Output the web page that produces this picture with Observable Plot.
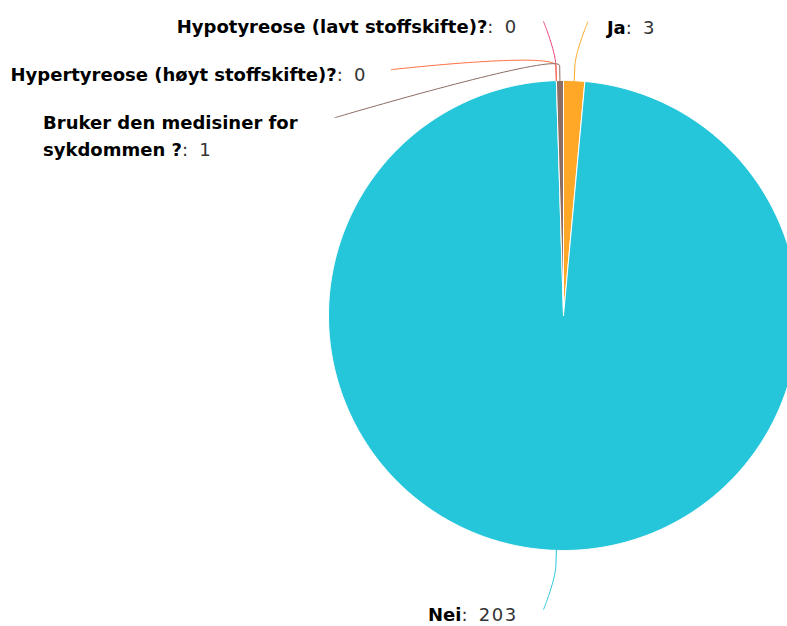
<!DOCTYPE html>
<html><head><meta charset="utf-8">
<script src="https://cdn.jsdelivr.net/npm/d3@7"></script>
<script src="https://cdn.jsdelivr.net/npm/@observablehq/plot@0.6"></script>
<style>
html,body{margin:0;padding:0;background:#fff;overflow:hidden;}
#chart svg{display:block;overflow:hidden;}
</style></head><body><div id="chart"></div>
<script>
// ---- data ----
const categories = ["Ja", "Nei", "Hypotyreose (lavt stoffskifte)?", "Hypertyreose (høyt stoffskifte)?", "Bruker den medisiner for sykdommen ?"];
const counts = [3, 203, 0, 0, 1];
const colors = ["#FFA726", "#26C6DA", "#EC407A", "#FF7043", "#8D6E63"];

// ---- layout constants (px) ----
const W = 787, H = 626;
const CX = 563, CY = 315, R = 235;
const LABEL_DIST = 59, CONN_PAD = 11, GAP_LEFT = 26, GAP_RIGHT = 19, STACK = 48, WRAP_W = 266, EDGE = 10;
const LINE_H = 27, BASE_OFF = 11.7;
const FONT_SIZE = 18, FONT = "DejaVu Sans";
const VAL_LS = 1.5, VAL_WS = 2.5; // letter / word spacing of the value text

const ux = px => (px - CX) / R;
const uy = py => (CY - py) / R;

const ctx = document.createElement("canvas").getContext("2d");
function measure(t, bold) {
  ctx.font = `${bold ? "bold " : ""}${FONT_SIZE}px "${FONT}"`;
  let w = ctx.measureText(t).width;
  if (!bold) w += VAL_LS * t.length + VAL_WS * (t.split(" ").length - 1);
  return w;
}

const arcs = d3.pie().sort(null).value(d => d)(counts);

// slices as polygons in unit-circle coordinates
const slicePts = [];
arcs.forEach((a, i) => {
  const span = a.endAngle - a.startAngle;
  if (span <= 0) return;
  const name = categories[i];
  const n = Math.max(2, Math.ceil(span / (Math.PI / 360)));
  slicePts.push({name, x: 0, y: 0});
  for (let k = 0; k <= n; k++) {
    const t = a.startAngle + span * k / n;
    slicePts.push({name, x: Math.sin(t), y: Math.cos(t)});
  }
  slicePts.push({name, x: 0, y: 0});
});

// labels
const Rl = R + LABEL_DIST;
const labels = arcs.map((a, i) => {
  const m = (a.startAngle + a.endAngle) / 2;
  const side = Math.sin(m) >= 0 ? 1 : -1;
  const naturalY = CY - Rl * Math.cos(m);
  return {i, m, side, naturalY, y: naturalY};
});
for (const side of [1, -1]) {
  const g = labels.filter(l => l.side === side)
    .sort((a, b) => Math.round(a.naturalY) - Math.round(b.naturalY) || a.i - b.i);
  let prev = -Infinity;
  for (const l of g) { l.y = Math.max(l.naturalY, prev + STACK); prev = l.y; }
}

function wrapLines(name, value, maxW) {
  const words = name.split(" ");
  const lines = []; let cur = [];
  const lw = (ws, last) => measure(ws.join(" "), true) + (last ? measure(value, false) : 0);
  words.forEach((w, k) => {
    const trial = cur.concat(w);
    if (cur.length && lw(trial, k === words.length - 1) > maxW) { lines.push(cur); cur = [w]; }
    else cur = trial;
  });
  lines.push(cur);
  return lines.map((ws, j) => ({bold: ws.join(" "), value: j === lines.length - 1 ? value : ""}));
}

const connPts = [];
const textItems = [];
labels.forEach(l => {
  const name = categories[l.i];
  const value = ": " + counts[l.i];
  const dy = CY - l.y;
  const connX = CX + l.side * (Math.sqrt(Math.max(0, Rl * Rl - dy * dy)) + CONN_PAD);
  // connector: soft (cubic) from label to break point, then straight to slice edge
  const T = [CX + R * Math.sin(l.m), CY - R * Math.cos(l.m)];
  const rb = R + LABEL_DIST / 4;
  const B = [CX + rb * Math.sin(l.m), CY - rb * Math.cos(l.m)];
  const P0 = [connX, l.y], P1 = [connX, l.y], P2 = [2 * B[0] - T[0], 2 * B[1] - T[1]], P3 = B;
  for (let k = 0; k <= 40; k++) {
    const t = k / 40, s = 1 - t;
    const px = s*s*s*P0[0] + 3*s*s*t*P1[0] + 3*s*t*t*P2[0] + t*t*t*P3[0];
    const py = s*s*s*P0[1] + 3*s*s*t*P1[1] + 3*s*t*t*P2[1] + t*t*t*P3[1];
    connPts.push({name, x: ux(px), y: uy(py)});
  }
  connPts.push({name, x: ux(T[0]), y: uy(T[1])});

  // text
  const full = measure(name, true) + measure(value, false);
  const avail = l.side < 0 ? connX - GAP_LEFT - EDGE : W - EDGE - connX - GAP_RIGHT;
  let lines, boxW;
  if (full > avail + 6) { lines = wrapLines(name, value, WRAP_W); boxW = WRAP_W; }
  else { lines = [{bold: name, value}]; boxW = full; }
  const x0 = l.side < 0 ? Math.max(EDGE, connX - GAP_LEFT - boxW) : connX + GAP_RIGHT;
  lines.forEach((ln, j) => {
    const base = l.y + BASE_OFF + j * LINE_H;
    textItems.push({x: ux(x0), y: uy(base), text: ln.bold, bold: true});
    if (ln.value) textItems.push({x: ux(x0 + measure(ln.bold, true)), y: uy(base), text: ln.value, bold: false});
  });
});

const chart = Plot.plot({
  width: W, height: H, margin: 0,
  x: {domain: [ux(0), ux(W)], axis: null},
  y: {domain: [uy(H), uy(0)], axis: null},
  color: {domain: categories, range: colors},
  style: {background: "#fff", overflow: "hidden"},
  marks: [
    Plot.line(slicePts, {x: "x", y: "y", z: "name", fill: "name", stroke: "#ffffff", strokeWidth: 1, strokeLinejoin: "round", curve: "linear"}),
    Plot.line(connPts, {x: "x", y: "y", z: "name", stroke: "name", strokeWidth: 1, curve: "linear"}),
    Plot.text(textItems.filter(d => d.bold), {x: "x", y: "y", text: "text", textAnchor: "start", lineAnchor: "bottom", fontFamily: FONT, fontSize: FONT_SIZE, fontWeight: "bold", fill: "#000"}),
    Plot.text(textItems.filter(d => !d.bold), {x: "x", y: "y", text: "text", textAnchor: "start", lineAnchor: "bottom", fontFamily: FONT, fontSize: FONT_SIZE, fill: "#333"})
  ]
});
const textGroups = chart.querySelectorAll('g[aria-label="text"]');
const valueGroup = textGroups[textGroups.length - 1];
if (valueGroup) valueGroup.querySelectorAll("text").forEach(t => {
  t.setAttribute("letter-spacing", VAL_LS);
  t.setAttribute("word-spacing", VAL_WS);
});
document.getElementById("chart").appendChild(chart);
</script>
</body></html>
